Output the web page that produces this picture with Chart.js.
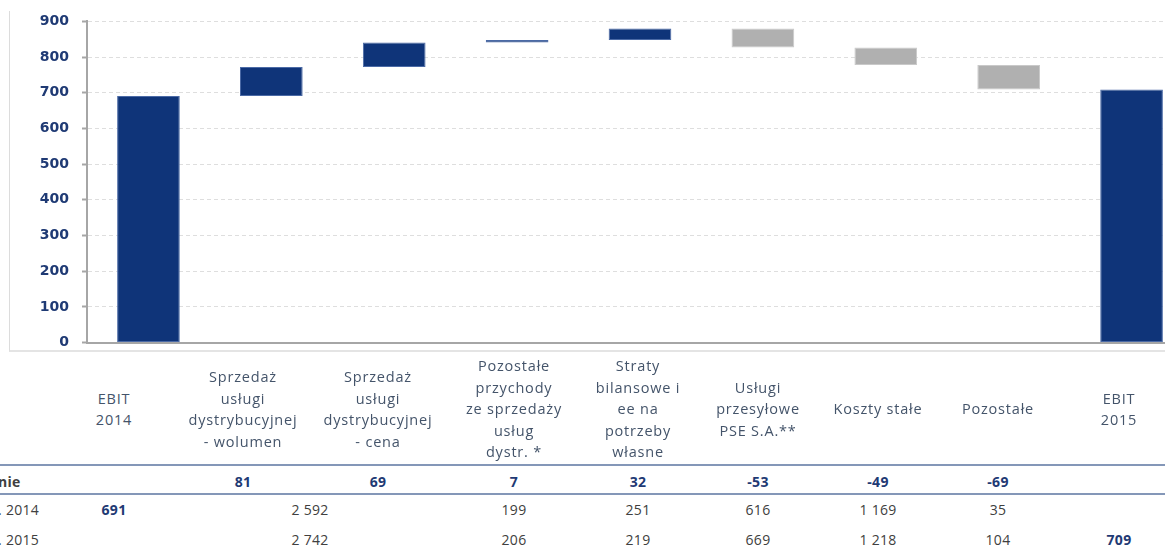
<!DOCTYPE html>
<html lang="pl">
<head>
<meta charset="utf-8">
<title>EBIT 2014 - 2015</title>
<script src="https://cdn.jsdelivr.net/npm/chart.js@4.4.1/dist/chart.umd.min.js"></script>
<style>
  html, body { margin: 0; padding: 0; background: #fff; }
  body { width: 1165px; height: 549px; overflow: hidden; position: relative; font-family: "Open Sans", "Noto Sans", sans-serif; }
  #ramka { position: absolute; left: 9px; top: 11px; width: 1200px; height: 339px; border-left: 1px solid #DCDCDC; border-bottom: 2px solid #E4E4E4; }
  #wykres { position: absolute; left: 0; top: 0; width: 1200px; height: 364px; }
  .kat { position: absolute; width: 150px; margin-left: -75px; text-align: center; color: #44546A; font-size: 14.5px; line-height: 21.5px; letter-spacing: 0.8px; }
  .kom { position: absolute; width: 100px; margin-left: -50px; text-align: center; font-size: 14px; line-height: 20px; color: #404040; letter-spacing: 0.3px; }
  .zmiana { font-weight: bold; color: #1F3A74; }
  .ebit { font-weight: bold; color: #1F3A74; }
  .opis { position: absolute; left: -2px; font-size: 14px; line-height: 20px; color: #404040; letter-spacing: 0.3px; }
  .linia { position: absolute; left: 0; width: 1165px; height: 2px; background: #8497B8; }
</style>
</head>
<body>
<div id="ramka"></div>
<div id="wykres"><canvas id="ebitChart"></canvas></div>
<div id="tabela"></div>

<script>
// kategorie mostu EBIT (kolejne linie opisu)
const kategorie = [
  ['EBIT', '2014'],
  ['Sprzedaż', 'usługi', 'dystrybucyjnej', '- wolumen'],
  ['Sprzedaż', 'usługi', 'dystrybucyjnej', '- cena'],
  ['Pozostałe', 'przychody', 'ze sprzedaży', 'usług', 'dystr. *'],
  ['Straty', 'bilansowe i', 'ee na', 'potrzeby', 'własne'],
  ['Usługi', 'przesyłowe', 'PSE S.A.**'],
  ['Koszty stałe'],
  ['Pozostałe'],
  ['EBIT', '2015']
]
const ebit2014 = 691
const ebit2015 = 709
const zmiany = [81, 69, 7, 32, -53, -49, -69]
const wartosci2014 = [2592, 199, 251, 616, 1169, 35]
const wartosci2015 = [2742, 206, 219, 669, 1218, 104]
const osY = [0, 100, 200, 300, 400, 500, 600, 700, 800, 900]

// słupki pływające: start i koniec każdego kroku
var zakresy = [[0, ebit2014]]
var poziom = ebit2014
zmiany.forEach(function (z) {
  zakresy.push([poziom, poziom + z])
  poziom += z
})
zakresy.push([0, ebit2015])

var kolory = zakresy.map(function (r, i) {
  return (i > 0 && i <= zmiany.length && zmiany[i - 1] < 0) ? '#B0B0B0' : '#0F3479'
})
var obrysy = kolory.map(function (k) { return k == '#B0B0B0' ? '#C9C9C9' : '#4B6AA6' })

var ebitChart = new Chart(document.getElementById('ebitChart').getContext('2d'), {
  type: 'bar',
  data: {
    labels: kategorie.map(function (k) { return k.join(' ') }),
    datasets: [{
      data: zakresy,
      backgroundColor: kolory,
      borderColor: obrysy,
      borderWidth: 1,
      borderSkipped: false,
      barPercentage: 0.51,
      categoryPercentage: 1
    }]
  },
  options: {
    responsive: true,
    maintainAspectRatio: false,
    animation: false,
    layout: { padding: { top: 21, right: 7, bottom: 9, left: 0 } },
    plugins: { legend: { display: false }, tooltip: { enabled: false } },
    scales: {
      x: {
        ticks: { display: false },
        grid: { display: false },
        border: { display: true, color: '#A6A6A6', width: 2 },
        afterFit: function (scale) { scale.height = 0 }
      },
      y: {
        min: 0,
        max: 900,
        afterBuildTicks: function (scale) {
          scale.ticks = osY.map(function (v) { return { value: v } })
        },
        afterFit: function (scale) { scale.width = 87 },
        ticks: {
          color: '#1F3A74',
          padding: 13,
          font: { family: 'DejaVu Sans', size: 14, weight: 'bold' }
        },
        grid: {
          color: '#DEDEDE',
          lineWidth: 1,
          tickLength: 5,
          tickColor: '#A6A6A6',
          tickWidth: 2
        },
        border: { display: true, color: '#A6A6A6', width: 2, dash: [4, 3] }
      }
    }
  }
})

// tabela pod wykresem
var srodki = [114, 243, 378, 514, 638, 758, 878, 998, 1119]
var srodekScalony = 310
var tabela = document.getElementById('tabela')

function liczba(v) {
  return String(v).replace(/\B(?=(\d{3})+(?!\d))/g, ' ')
}

function komorka(x, y, tekst, klasa) {
  var d = document.createElement('div')
  d.className = 'kom' + (klasa ? ' ' + klasa : '')
  d.style.left = x + 'px'
  d.style.top = (y - 10) + 'px'
  d.textContent = tekst
  tabela.appendChild(d)
}

kategorie.forEach(function (linie, i) {
  var d = document.createElement('div')
  d.className = 'kat'
  d.style.left = srodki[i] + 'px'
  d.style.top = (409 - linie.length * 21.5 / 2) + 'px'
  d.innerHTML = linie.join('<br>')
  tabela.appendChild(d)
})

;[464, 493].forEach(function (y) {
  var l = document.createElement('div')
  l.className = 'linia'
  l.style.top = y + 'px'
  tabela.appendChild(l)
})

var opisy = [['nie', 482, 'zmiana'], ['. 2014', 510, ''], ['. 2015', 540, '']]
opisy.forEach(function (o) {
  var d = document.createElement('div')
  d.className = 'opis' + (o[2] ? ' ' + o[2] : '')
  d.style.top = (o[1] - 10) + 'px'
  d.textContent = o[0]
  tabela.appendChild(d)
})

zmiany.forEach(function (z, i) {
  komorka(srodki[i + 1], 482, String(z), 'zmiana')
})

komorka(srodki[0], 510, liczba(ebit2014), 'ebit')
komorka(srodekScalony, 510, liczba(wartosci2014[0]))
wartosci2014.slice(1).forEach(function (v, i) {
  komorka(srodki[i + 3], 510, liczba(v))
})

komorka(srodekScalony, 540, liczba(wartosci2015[0]))
wartosci2015.slice(1).forEach(function (v, i) {
  komorka(srodki[i + 3], 540, liczba(v))
})
komorka(srodki[8], 540, liczba(ebit2015), 'ebit')
</script>
</body>
</html>
